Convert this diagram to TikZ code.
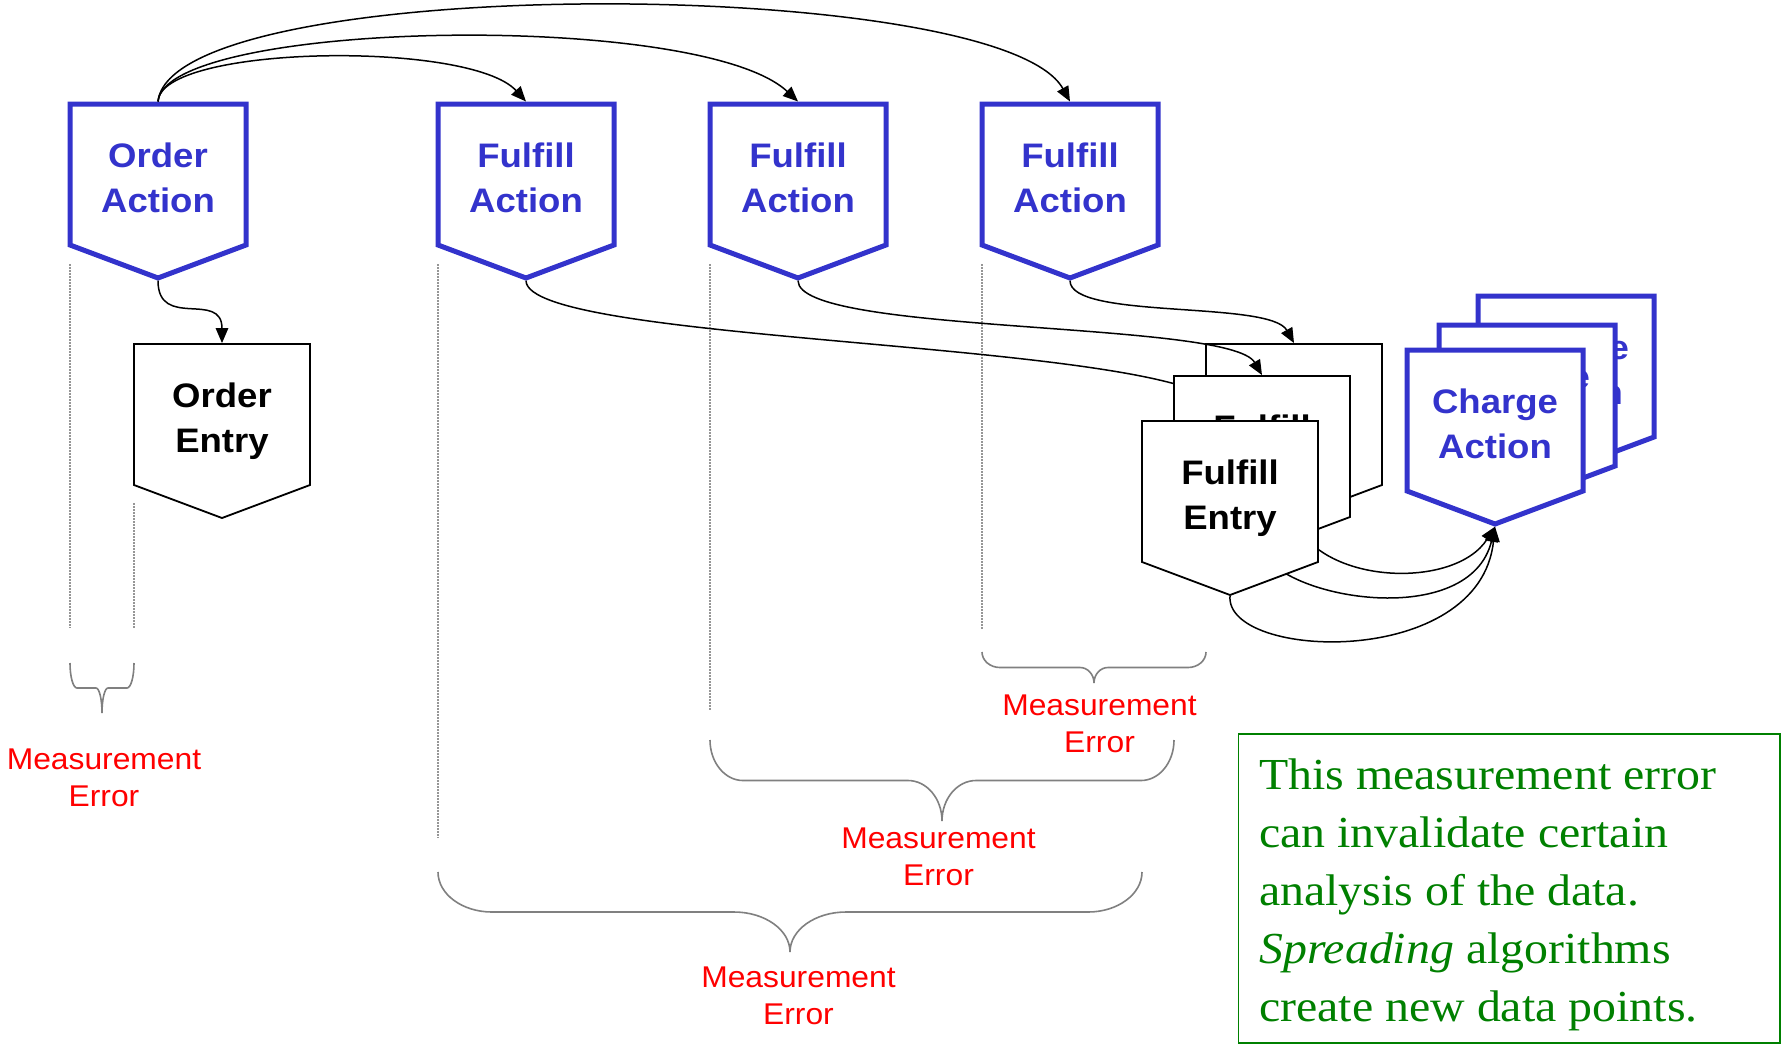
\documentclass[tikz,border=0pt]{standalone}
\usepackage{fontspec}
\setmainfont{Liberation Serif}[FakeStretch=1.08]
\newfontfamily\platefont{Liberation Sans}[FakeStretch=1.075]
\newfontfamily\labelfont{Liberation Sans}[FakeStretch=1.06]
\usetikzlibrary{arrows.meta}

\definecolor{actblue}{RGB}{51,51,204}
\definecolor{notegreen}{RGB}{0,128,0}
\definecolor{bracegray}{RGB}{128,128,128}
\definecolor{dotgray}{RGB}{150,150,150}

\tikzset{
  actshape/.style={draw=actblue, line width=5pt, fill=white},
  entshape/.style={draw=black, line width=1.8pt, fill=white},
  acttext/.style={text=actblue, font=\platefont\bfseries\fontsize{34}{44.7}\selectfont, inner sep=0pt, anchor=base},
  enttext/.style={text=black, font=\platefont\bfseries\fontsize{34}{44.7}\selectfont, inner sep=0pt, anchor=base},
  link/.style={draw=black, line width=1.5pt, -{Triangle[length=15pt,width=12.5pt]}},
  guide/.style={draw=dotgray, line width=1.2pt, dash pattern=on 1.5pt off 1.5pt},
  bracket/.style={draw=bracegray, line width=1.6pt},
  errlabel/.style={text=red, font=\labelfont\fontsize{30}{37.5}\selectfont, inner sep=0pt, anchor=base},
  notebox/.style={draw=notegreen, line width=1.5pt, inner sep=0pt, anchor=north west},
  notetext/.style={text=notegreen, font=\fontsize{44.3}{58}\selectfont, inner sep=0pt, anchor=base west},
}

% half stroke width of each plate kind (outer edge of the outline)
\def\actouter{2.5}
\def\entouter{0.9}

% anchor points of a plate: top centre and bottom tip
\newcommand\platecoords[4]{%
  \coordinate (#1-top) at ({#3+88},{#4-\csname #2outer\endcsname});
  \coordinate (#1-tip) at ({#3+88},{#4+174+1.07*\csname #2outer\endcsname});
}

% a downward pointing plate: name, kind (act/ent), left x, top y, two lines of text
\newcommand\plate[6]{%
  \path[#2shape] (#3,#4) -- ++(176,0) -- ++(0,141) -- ++(-88,33) -- ++(-88,-33) -- cycle;
  \platecoords{#1}{#2}{#3}{#4}
  \node[#2text] (#1) at ({#3+88},{#4+63.7}) {\begin{tabular}[t]{@{}c@{}}#5\\#6\end{tabular}};
}

% curly brace opening upwards: left x, right x, top y, half height, corner radius, tip radius
\newcommand\curlybrace[6]{%
  \pgfmathsetmacro\bmid{(#1+#2)/2}
  \draw[bracket] (#1,#3)
    .. controls (#1,{#3+0.5523*#4}) and ({#1+0.4477*#5},{#3+#4}) .. ({#1+#5},{#3+#4})
    -- ({\bmid-#6},{#3+#4})
    .. controls ({\bmid-0.4477*#6},{#3+#4}) and (\bmid,{#3+1.4477*#4}) .. (\bmid,{#3+2*#4})
    .. controls (\bmid,{#3+1.4477*#4}) and ({\bmid+0.4477*#6},{#3+#4}) .. ({\bmid+#6},{#3+#4})
    -- ({#2-#5},{#3+#4})
    .. controls ({#2-0.4477*#5},{#3+#4}) and (#2,{#3+0.5523*#4}) .. (#2,#3);
}

\begin{document}
\begin{tikzpicture}[x=1pt,y=-1pt]
\useasboundingbox (0,0) rectangle (1782,1045);
\fill[white] (0,0) rectangle (1782,1045);

% timing guides
\draw[guide] (70,264) -- (70,628);
\draw[guide] (134,503) -- (134,628);
\draw[guide] (438,264) -- (438,838);
\draw[guide] (710,264) -- (710,710);
\draw[guide] (982,264) -- (982,630);

% error spans
\curlybrace{70}{134}{663}{25}{7}{6}
\curlybrace{982}{1206}{652}{15.5}{18}{14}
\curlybrace{710}{1174}{740}{40.5}{33}{34}
\curlybrace{438}{1142}{872}{40}{54}{56}

\node[errlabel] (err1) at (104,769) {\begin{tabular}[t]{@{}c@{}}Measurement\\Error\end{tabular}};
\node[errlabel] (err2) at (1099.5,715) {\begin{tabular}[t]{@{}c@{}}Measurement\\Error\end{tabular}};
\node[errlabel] (err3) at (938.5,848) {\begin{tabular}[t]{@{}c@{}}Measurement\\Error\end{tabular}};
\node[errlabel] (err4) at (798.5,987) {\begin{tabular}[t]{@{}c@{}}Measurement\\Error\end{tabular}};

% note
\node[notebox, minimum width=541.5pt, minimum height=309pt] (note) at (1237.5,733) {};
\node[notetext] (notetxt) at (1259,789) {\begin{tabular}[t]{@{}l@{}}This measurement error\\can invalidate certain\\analysis of the data.\\\textit{Spreading} algorithms\\create new data points.\end{tabular}};

% actions
\plate{oa}{act}{70}{104}{Order}{Action}
\plate{fa1}{act}{438}{104}{Fulfill}{Action}
\plate{fa2}{act}{710}{104}{Fulfill}{Action}
\plate{fa3}{act}{982}{104}{Fulfill}{Action}
\plate{oe}{ent}{134}{344}{Order}{Entry}

% charge stack, back to front
\plate{ca3}{act}{1478}{296}{Charge}{Action}
\plate{ca2}{act}{1439}{325}{Charge}{Action}
\plate{ca1}{act}{1407}{350}{Charge}{Action}

% order action fans out
\draw[link] (oa-top) .. controls (160,45) and (470,40) .. (fa1-top);
\draw[link] (oa-top) .. controls (165,20) and (700,10) .. (fa2-top);
\draw[link] (oa-top) .. controls (172,-28) and (1000,-25) .. (fa3-top);
\draw[link] (oa-tip) .. controls (158,330) and (222,290) .. (oe-top);

% fulfill entry stack, back to front
\plate{fe3}{ent}{1206}{344}{Fulfill}{Entry}
\platecoords{fe2}{ent}{1174}{376}
\platecoords{fe1}{ent}{1142}{421}
\draw[link] (fa3-tip) .. controls (1070,320) and (1270,300) .. (fe3-top);
\draw[link] (fa2-tip) .. controls (798,335) and (1230,320) .. (fe2-top);
\draw[link] (fa1-tip) .. controls (527,345) and (1180,340) .. (fe1-top);
\draw[link] (fe3-tip) .. controls (1320,585) and (1455,590) .. (ca1-tip);

\plate{fe2}{ent}{1174}{376}{Fulfill}{Entry}
\draw[link] (fe2-tip) .. controls (1285,600) and (1470,630) .. (ca1-tip);

\plate{fe1}{ent}{1142}{421}{Fulfill}{Entry}
\draw[link] (fe1-tip) .. controls (1225,660) and (1480,670) .. (ca1-tip);
\end{tikzpicture}
\end{document}
